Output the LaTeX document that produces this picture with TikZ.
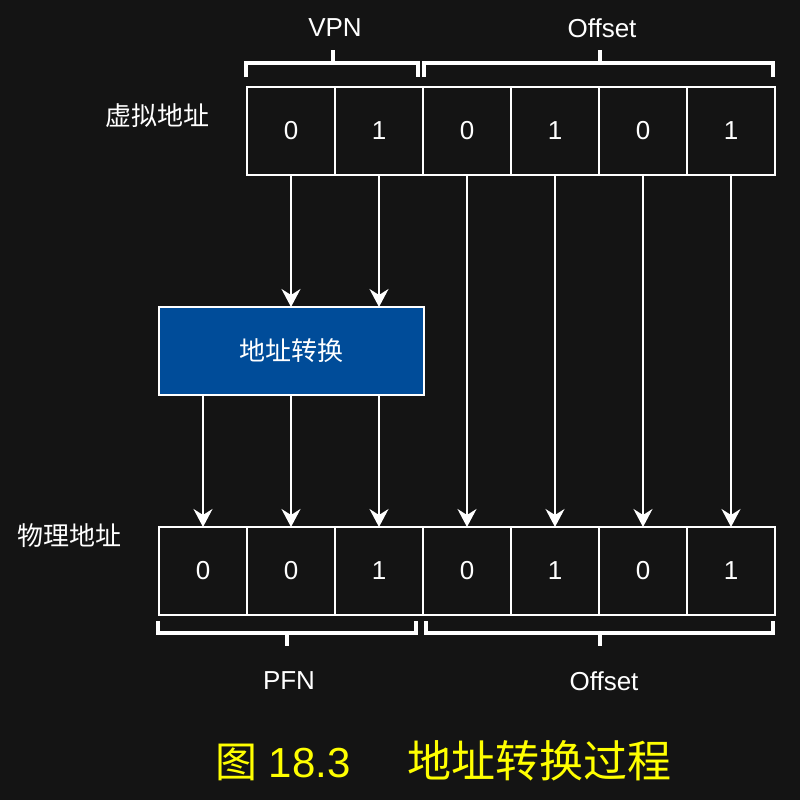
\documentclass[tikz,border=0pt]{standalone}
\usepackage{fontspec}
\setmainfont{Liberation Sans}
\newfontfamily\cjk{Noto Sans CJK SC}
\usetikzlibrary{arrows.meta,matrix}
\definecolor{bgdark}{RGB}{20,20,20}
\definecolor{xlblue}{RGB}{0,76,153}
\definecolor{capyellow}{RGB}{255,255,0}
\tikzset{
  bitcell/.style={draw=white,line width=2pt,minimum size=88pt,inner sep=0pt,outer sep=0pt,text=white,font=\fontsize{26}{30}\selectfont},
  lbl/.style={text=white,inner sep=0pt,font=\fontsize{26}{30}\selectfont},
  bracket/.style={draw=white,line width=3.5pt},
  arr/.style={color=white,line width=2pt,-{Stealth[length=18pt,width=19pt,inset=6pt]}},
}

\begin{document}
\begin{tikzpicture}[x=1pt,y=1pt]
  \fill[bgdark] (0,0) rectangle (800,-800);
  \useasboundingbox (0,0) rectangle (800,-800);
  \matrix (va) at (511,-131) [matrix of nodes,nodes={bitcell},column sep=-2pt,inner sep=0pt,ampersand replacement=\&]
   {
     0 \& 1 \& 0 \& 1 \& 0 \& 1 \\
   };
  \matrix (pa) at (467,-571) [matrix of nodes,nodes={bitcell},column sep=-2pt,inner sep=0pt,ampersand replacement=\&]
   {
     0 \& 0 \& 1 \& 0 \& 1 \& 0 \& 1 \\
   };
  \node (xlat) at (291,-351) [draw=white,fill=xlblue,line width=2pt,minimum width=265pt,minimum height=88pt,outer sep=0pt,lbl] {\cjk 地址转换};
  \node[lbl] (valbl) at (157,-116) {\cjk 虚拟地址};
  \node[lbl] (palbl) at (69,-536) {\cjk 物理地址};
  \node[lbl] (vpn) at (335,-28) {VPN};
  \node[lbl] (voff) at (602,-28) {Offset};
  \node[lbl] (pfn) at (289,-681) {PFN};
  \node[lbl] (poff) at (604,-681) {Offset};
  \node[text=capyellow,inner sep=0pt,anchor=west,font=\fontsize{42}{48}\selectfont] (cap) at (215,-761) {{\cjk 图} 18.3\hspace{57pt}{\cjk\fontsize{44}{48}\selectfont 地址转换过程}};
  % brackets
  \draw[bracket] (246,-77) -- (246,-63) -- (418,-63) -- (418,-77) (333,-63) -- (333,-50);
  \draw[bracket] (424,-77) -- (424,-63) -- (773,-63) -- (773,-77) (600,-63) -- (600,-50);
  \draw[bracket] (158,-621) -- (158,-633) -- (416,-633) -- (416,-621) (287,-633) -- (287,-646);
  \draw[bracket] (426,-621) -- (426,-633) -- (773,-633) -- (773,-621) (600,-633) -- (600,-646);
  \path[arr]
     (va-1-1) edge (va-1-1 |- xlat.north)
     (va-1-2) edge (va-1-2 |- xlat.north)
     (va-1-3) edge (pa-1-4)
     (va-1-4) edge (pa-1-5)
     (va-1-5) edge (pa-1-6)
     (va-1-6) edge (pa-1-7)
     (pa-1-1 |- xlat.south) edge (pa-1-1)
     (pa-1-2 |- xlat.south) edge (pa-1-2)
     (pa-1-3 |- xlat.south) edge (pa-1-3);
\end{tikzpicture}
\end{document}
